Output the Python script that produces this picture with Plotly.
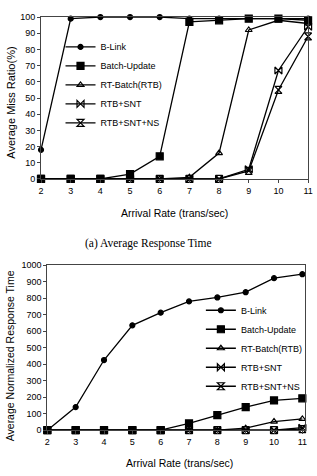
import plotly.graph_objects as go

W, H = 317, 476

arrival = [2, 3, 4, 5, 6, 7, 8, 9, 10, 11]
series_names = ["B-Link", "Batch-Update", "RT-Batch(RTB)", "RTB+SNT", "RTB+SNT+NS"]

blink_miss = [18, 99, 100, 100, 100, 99, 99, 99, 99, 99]
batch_miss = [0, 0, 0, 3, 14, 97, 98, 99, 99, 98]
rtb_miss = [0, 0, 0, 0, 0, 1, 16, 92, 98, 96]
snt_miss = [0, 0, 0, 0, 0, 0, 0, 6, 67, 94]
ns_miss = [0, 0, 0, 0, 0, 0, 0, 5, 55, 88]

blink_rt = [0, 140, 425, 635, 712, 780, 804, 836, 921, 945]
batch_rt = [0, 0, 0, 0, 0, 41, 91, 140, 180, 193]
rtb_rt = [0, 0, 0, 0, 0, 0, 0, 12, 52, 68]
snt_rt = [0, 0, 0, 0, 0, 0, 0, 0, 0, 15]
ns_rt = [0, 0, 0, 0, 0, 0, 0, 0, 0, 6]

miss_tick_vals = list(range(0, 101, 10))
rt_tick_vals = list(range(0, 1001, 100))

symbols = ["circle", "square", "triangle-up-open", "bowtie-open", "hourglass-open"]
sizes = [5, 7, 6, 7, 7]

FONT = "Liberation Sans, Arial, sans-serif"

fig = go.Figure()

miss_data = [blink_miss, batch_miss, rtb_miss, snt_miss, ns_miss]
rt_data = [blink_rt, batch_rt, rtb_rt, snt_rt, ns_rt]

for i, name in enumerate(series_names):
    fig.add_trace(go.Scatter(
        x=arrival, y=miss_data[i], name=name, mode="lines+markers",
        line=dict(color="black", width=1.3),
        marker=dict(symbol=symbols[i], size=sizes[i], color="black",
                    line=dict(color="black", width=1.2)),
        xaxis="x", yaxis="y", legend="legend", cliponaxis=False,
    ))
for i, name in enumerate(series_names):
    fig.add_trace(go.Scatter(
        x=arrival, y=rt_data[i], name=name, mode="lines+markers",
        line=dict(color="black", width=1.3),
        marker=dict(symbol=symbols[i], size=sizes[i], color="black",
                    line=dict(color="black", width=1.2)),
        xaxis="x2", yaxis="y2", legend="legend2", cliponaxis=False,
    ))

axis_common = dict(showgrid=False, zeroline=False, showline=True, mirror=True,
                   linecolor="#444", linewidth=1, ticks="outside", ticklen=3,
                   tickcolor="#444", tickfont=dict(family=FONT, size=9, color="black"))

fig.update_layout(
    width=W, height=H,
    margin=dict(l=0, r=0, t=0, b=0),
    paper_bgcolor="white", plot_bgcolor="white",
    font=dict(family=FONT, color="black"),
    xaxis=dict(domain=[39 / W, 313 / W], range=[2, 11], tickvals=arrival,
               anchor="y", **axis_common),
    yaxis=dict(domain=[1 - 177.7 / H, 1 - 12.3 / H], range=[0, 100],
               tickvals=miss_tick_vals, anchor="x", **axis_common),
    xaxis2=dict(domain=[45.5 / W, 310 / W], range=[2, 11.1], tickvals=arrival,
                anchor="y2", **axis_common),
    yaxis2=dict(domain=[1 - 434.3 / H, 1 - 265.7 / H], range=[0, 1000],
                tickvals=rt_tick_vals, anchor="x2", **axis_common),
    legend=dict(x=59 / W, y=1 - 28 / H, xanchor="left", yanchor="top",
                bgcolor="rgba(0,0,0,0)", font=dict(family=FONT, size=9),
                tracegroupgap=2, itemwidth=30),
    legend2=dict(x=203 / W, y=1 - 297 / H, xanchor="left", yanchor="top",
                 bgcolor="rgba(0,0,0,0)", font=dict(family=FONT, size=9),
                 itemwidth=30),
    showlegend=True,
)

annotations = [
    dict(text="Average Miss Ratio(%)", x=8 / W, y=1 - 100 / H, textangle=-90,
         font=dict(family=FONT, size=11)),
    dict(text="Arrival Rate (trans/sec)", x=176 / W, y=1 - 212 / H,
         font=dict(family=FONT, size=10.5)),
    dict(text="(a) Average Response Time", x=149.5 / W, y=1 - 244 / H,
         font=dict(family="Liberation Serif, Times New Roman, serif", size=11.5)),
    dict(text="Average Normalized Response Time", x=8 / W, y=1 - 358 / H, textangle=-90,
         font=dict(family=FONT, size=10.5)),
    dict(text="Arrival Rate (trans/sec)", x=181 / W, y=1 - 468 / H,
         font=dict(family=FONT, size=10.5)),
]
for a in annotations:
    fig.add_annotation(xref="paper", yref="paper", showarrow=False,
                       xanchor="center", yanchor="middle", **a)

fig.write_html("out.html")
